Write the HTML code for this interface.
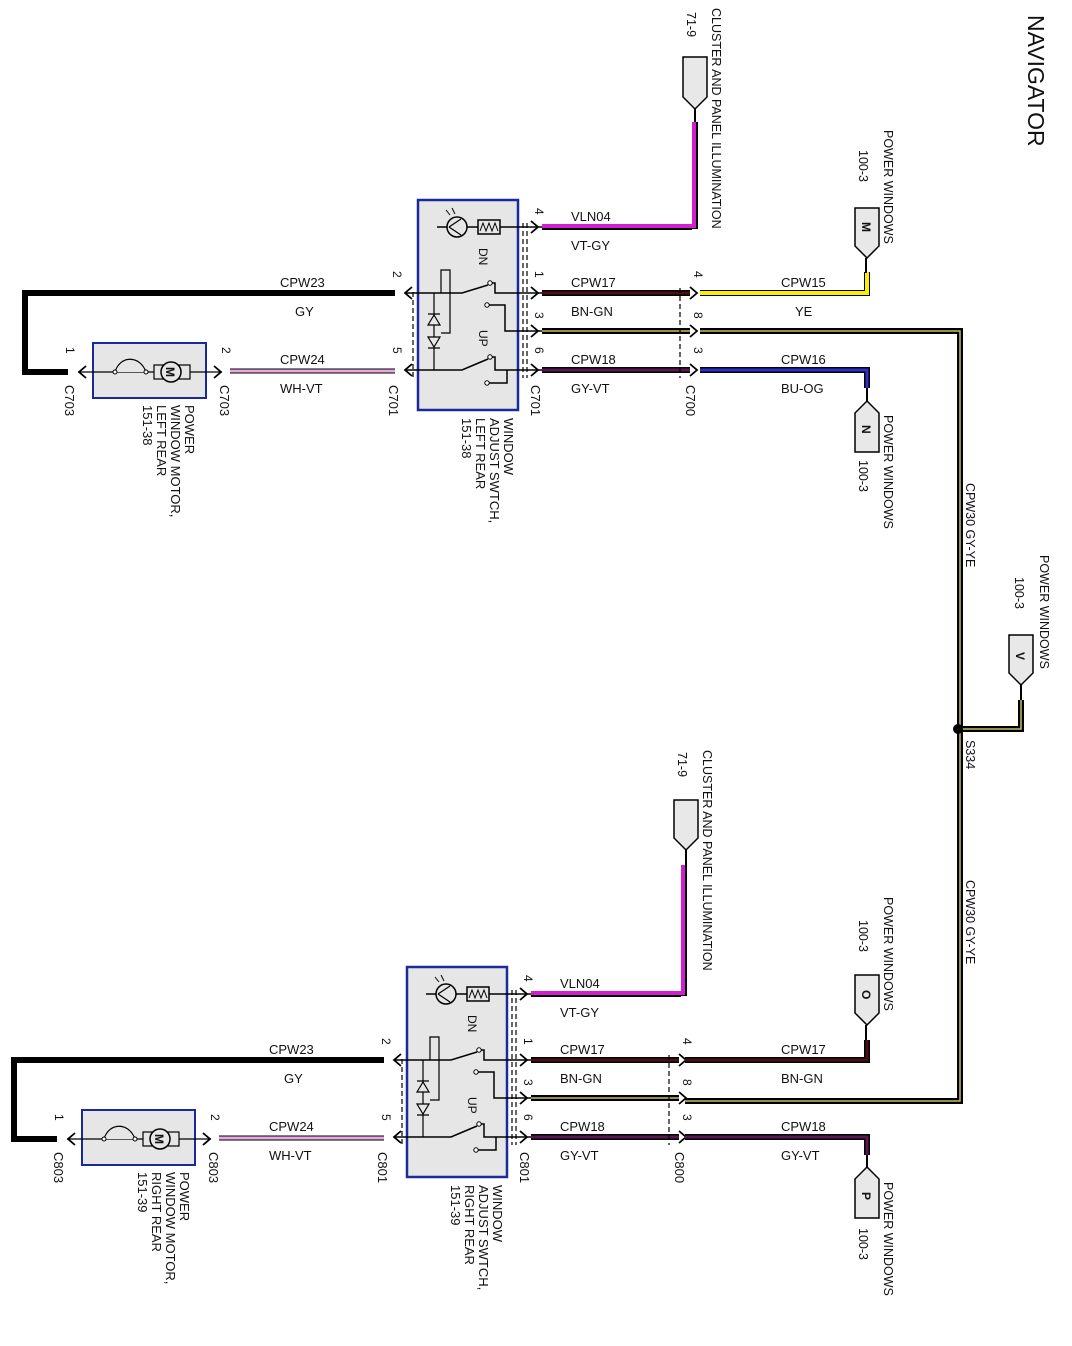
<!DOCTYPE html>
<html><head><meta charset="utf-8"><style>
html,body{margin:0;padding:0;background:#fff;}
svg{display:block;font-family:"Liberation Sans",Arial,sans-serif;font-size:13px;}
text{fill:#111;}
.b{stroke:#000;fill:none;}
</style></head><body>
<svg width="1072" height="1346" viewBox="0 0 1072 1346" xmlns="http://www.w3.org/2000/svg">
<defs>
<g id="sw">
  <rect x="418" y="200" width="100" height="210" fill="#e6e6e6" stroke="#1a2a9a" stroke-width="2.5"/>
  <line x1="437" y1="227" x2="542" y2="227" class="b" stroke-width="1.5"/>
  <circle cx="457" cy="227" r="10" fill="#e6e6e6" stroke="#000" stroke-width="1.5"/>
  <path d="M449 227 L461 219 M449 227 L461 235" class="b" stroke-width="1.2"/>
  <path d="M450 215 l-4 -5 M455 214 l-3 -6" class="b" stroke-width="1"/>
  <rect x="478" y="220" width="22" height="14" fill="#e6e6e6" stroke="#000" stroke-width="1.5"/>
  <path d="M480 231 l3 -8 l3 8 l3 -8 l3 8 l3 -8 l3 8" class="b" stroke-width="1"/>
  <text transform="translate(479,248) rotate(90)" font-size="12">DN</text>
  <text transform="translate(479,330) rotate(90)" font-size="12">UP</text>
  <path d="M405 293 L462 293 L488 285" class="b" stroke-width="1.5"/>
  <circle cx="490" cy="283" r="2.2" fill="#fff" stroke="#000"/>
  <path d="M492 283 L495 283 L495 293 L542 293" class="b" stroke-width="1.5"/>
  <circle cx="487" cy="305" r="2.2" fill="#fff" stroke="#000"/>
  <path d="M489 305 L505 305 L505 331 L542 331" class="b" stroke-width="1.5"/>
  <path d="M441 293 L441 270 L450 270 L450 333 L441 333" class="b" stroke-width="1.2"/>
  <path d="M434 293 L434 370" class="b" stroke-width="1.2"/>
  <path d="M428 325 L440 325 L434 315 Z M428 337 L440 337 L434 347 Z M428 314 L440 314 M428 348 L440 348" fill="#e6e6e6" stroke="#000" stroke-width="1.2"/>
  <path d="M405 370 L462 370 L488 359" class="b" stroke-width="1.5"/>
  <circle cx="490" cy="357" r="2.2" fill="#fff" stroke="#000"/>
  <path d="M492 357 L495 357 L495 370 L542 370" class="b" stroke-width="1.5"/>
  <circle cx="487" cy="383" r="2.2" fill="#fff" stroke="#000"/>
  <path d="M489 383 L507 383 L507 370" class="b" stroke-width="1.5"/>
  <path d="M413 292 L413 378 M523 223 L523 378 M527 223 L527 378" class="b" stroke-dasharray="5,3" stroke-width="1.2"/>
  <path d="M412 287 L405 293 L412 299 M412 364 L405 370 L412 376" class="b" stroke-width="1.8"/>
  <path d="M531 221 L538 227 L531 233 M531 287 L538 293 L531 299 M531 325 L538 331 L531 337 M531 364 L538 370 L531 376" class="b" stroke-width="1.8"/>
  <rect x="93" y="343" width="113" height="55" fill="#e6e6e6" stroke="#1a2a9a" stroke-width="2"/>
  <line x1="78" y1="372" x2="222" y2="372" class="b" stroke-width="1.2"/>
  <path d="M115 372 C120 355,140 355,146 372" fill="#e6e6e6" stroke="#000" stroke-width="1.2"/>
  <circle cx="115" cy="372" r="2" fill="#fff" stroke="#000"/><circle cx="146" cy="372" r="2" fill="#fff" stroke="#000"/>
  <rect x="154" y="365" width="36" height="14" fill="#e6e6e6" stroke="#000" stroke-width="1.2"/>
  <circle cx="171" cy="372" r="10" fill="#e6e6e6" stroke="#000" stroke-width="1.5"/>
  <text transform="translate(166,367) rotate(90)" font-size="12" font-weight="bold">M</text>
  <path d="M86 366 L79 372 L86 378 M214 366 L221 372 L214 378" class="b" stroke-width="1.8"/>
  <path d="M395 293 L25 293 L25 372 L68 372" class="b" stroke-width="6"/>
  <line x1="230" y1="371" x2="395" y2="371" stroke="#000" stroke-width="5"/>
  <line x1="230" y1="371" x2="395" y2="371" stroke="#e8a8e0" stroke-width="3"/>
  <line x1="542" y1="227" x2="692" y2="227" stroke="#000" stroke-width="6"/>
  <line x1="542" y1="226" x2="692" y2="226" stroke="#d020d0" stroke-width="4"/>
  <line x1="542" y1="293" x2="690" y2="293" stroke="#000" stroke-width="6"/>
  <line x1="542" y1="293" x2="690" y2="293" stroke="#4a1010" stroke-width="3"/>
  <line x1="542" y1="331" x2="690" y2="331" stroke="#000" stroke-width="6"/>
  <line x1="542" y1="331" x2="690" y2="331" stroke="#c8c060" stroke-width="1.5"/>
  <line x1="542" y1="370" x2="690" y2="370" stroke="#000" stroke-width="6"/>
  <line x1="542" y1="370" x2="690" y2="370" stroke="#5a1850" stroke-width="3"/>
  <path d="M680 288 L680 378" class="b" stroke-dasharray="5,3" stroke-width="1.2"/>
  <path d="M690 287 L697 293 L690 299 M690 325 L697 331 L690 337 M690 364 L697 370 L690 376" class="b" stroke-width="1.8"/>
  <text x="280" y="287">CPW23</text><text x="295" y="316">GY</text>
  <text x="280" y="364">CPW24</text><text x="280" y="393">WH-VT</text>
  <text x="571" y="221">VLN04</text><text x="571" y="250">VT-GY</text>
  <text x="571" y="287">CPW17</text><text x="571" y="316">BN-GN</text>
  <text x="571" y="364">CPW18</text><text x="571" y="393">GY-VT</text>
  <text transform="translate(535,208) rotate(90)" font-size="12">4</text>
  <text transform="translate(535,271) rotate(90)" font-size="12">1</text>
  <text transform="translate(535,312) rotate(90)" font-size="12">3</text>
  <text transform="translate(535,347) rotate(90)" font-size="12">6</text>
  <text transform="translate(393,271) rotate(90)" font-size="12">2</text>
  <text transform="translate(393,347) rotate(90)" font-size="12">5</text>
  <text transform="translate(222,347) rotate(90)" font-size="12">2</text>
  <text transform="translate(66,347) rotate(90)" font-size="12">1</text>
  <text transform="translate(694,271) rotate(90)" font-size="12">4</text>
  <text transform="translate(694,312) rotate(90)" font-size="12">8</text>
  <text transform="translate(694,347) rotate(90)" font-size="12">3</text>
</g>
</defs>

<text transform="translate(1028,15) rotate(90)" font-size="23">NAVIGATOR</text>

<use href="#sw"/>
<text transform="translate(65,385) rotate(90)">C703</text>
<text transform="translate(220,385) rotate(90)">C703</text>
<text transform="translate(389,385) rotate(90)">C701</text>
<text transform="translate(531,385) rotate(90)">C701</text>
<text transform="translate(686,385) rotate(90)">C700</text>
<text transform="translate(185,405) rotate(90)">POWER</text>
<text transform="translate(171,405) rotate(90)">WINDOW MOTOR,</text>
<text transform="translate(157,405) rotate(90)">LEFT REAR</text>
<text transform="translate(143,405) rotate(90)">151-38</text>
<text transform="translate(504,418) rotate(90)">WINDOW</text>
<text transform="translate(490,418) rotate(90)">ADJUST SWTCH,</text>
<text transform="translate(476,418) rotate(90)">LEFT REAR</text>
<text transform="translate(462,418) rotate(90)">151-38</text>
<line x1="695" y1="122" x2="695" y2="229" stroke="#000" stroke-width="6"/>
<line x1="694" y1="122" x2="694" y2="228" stroke="#d020d0" stroke-width="4"/>
<line x1="695" y1="108" x2="695" y2="122" class="b" stroke-width="2"/>
<path d="M683 57 L707 57 L707 97 L695 109 L683 97 Z" fill="#e8e8e8" stroke="#000" stroke-width="1.5"/>
<text transform="translate(712,8) rotate(90)" font-size="12.5">CLUSTER AND PANEL ILLUMINATION</text>
<text transform="translate(687,12) rotate(90)" font-size="12.5">71-9</text>
<path d="M700 293 L867 293 L867 272" fill="none" stroke="#000" stroke-width="6"/>
<path d="M700 293 L867 293 L867 272" fill="none" stroke="#f8f000" stroke-width="4"/>
<line x1="866" y1="258" x2="866" y2="273" class="b" stroke-width="2"/>
<path d="M855 208 L879 208 L879 246 L867 258 L855 246 Z" fill="#e8e8e8" stroke="#000" stroke-width="1.5"/>
<text transform="translate(862,222) rotate(90)" font-size="12" font-weight="bold">M</text>
<text x="781" y="287">CPW15</text><text x="795" y="316">YE</text>
<text transform="translate(884,130) rotate(90)" font-size="12.5">POWER WINDOWS</text>
<text transform="translate(859,150) rotate(90)" font-size="12.5">100-3</text>
<path d="M700 370 L867 370 L867 388" fill="none" stroke="#000" stroke-width="6"/>
<path d="M700 370 L867 370 L867 388" fill="none" stroke="#2a30c8" stroke-width="3"/>
<line x1="867" y1="388" x2="867" y2="402" class="b" stroke-width="2"/>
<path d="M867 401 L879 413 L879 452 L855 452 L855 413 Z" fill="#e8e8e8" stroke="#000" stroke-width="1.5"/>
<text transform="translate(862,425) rotate(90)" font-size="12" font-weight="bold">N</text>
<text x="781" y="364">CPW16</text><text x="781" y="393">BU-OG</text>
<text transform="translate(884,415) rotate(90)" font-size="12.5">POWER WINDOWS</text>
<text transform="translate(859,460) rotate(90)" font-size="12.5">100-3</text>

<path d="M700 331 L960 331 L960 1101 L685 1101" fill="none" stroke="#000" stroke-width="6"/>
<path d="M700 331 L960 331 L960 1101 L685 1101" fill="none" stroke="#c8c060" stroke-width="1.5"/>
<path d="M960 729 L1021 729 L1021 700" fill="none" stroke="#000" stroke-width="6"/>
<path d="M960 729 L1021 729 L1021 700" fill="none" stroke="#c8c060" stroke-width="1.5"/>
<line x1="1021" y1="685" x2="1021" y2="700" class="b" stroke-width="2"/>
<path d="M1009 635 L1033 635 L1033 673 L1021 685 L1009 673 Z" fill="#e8e8e8" stroke="#000" stroke-width="1.5"/>
<text transform="translate(1016,652) rotate(90)" font-size="12" font-weight="bold">V</text>
<circle cx="958" cy="729" r="5" fill="#000"/>
<text transform="translate(1040,555) rotate(90)" font-size="12.5">POWER WINDOWS</text>
<text transform="translate(1015,577) rotate(90)" font-size="12.5">100-3</text>
<text transform="translate(966,740) rotate(90)" font-size="12.5">S334</text>
<text transform="translate(966,483) rotate(90)" font-size="12.5">CPW30   GY-YE</text>
<text transform="translate(966,880) rotate(90)" font-size="12.5">CPW30   GY-YE</text>

<g transform="translate(-11,767)">
<use href="#sw"/>
<text transform="translate(65,385) rotate(90)">C803</text>
<text transform="translate(220,385) rotate(90)">C803</text>
<text transform="translate(389,385) rotate(90)">C801</text>
<text transform="translate(531,385) rotate(90)">C801</text>
<text transform="translate(686,385) rotate(90)">C800</text>
</g>
<text transform="translate(180,1172) rotate(90)">POWER</text>
<text transform="translate(166,1172) rotate(90)">WINDOW MOTOR,</text>
<text transform="translate(152,1172) rotate(90)">RIGHT REAR</text>
<text transform="translate(138,1172) rotate(90)">151-39</text>
<text transform="translate(493,1185) rotate(90)">WINDOW</text>
<text transform="translate(479,1185) rotate(90)">ADJUST SWTCH,</text>
<text transform="translate(465,1185) rotate(90)">RIGHT REAR</text>
<text transform="translate(451,1185) rotate(90)">151-39</text>
<line x1="684" y1="865" x2="684" y2="996" stroke="#000" stroke-width="6"/>
<line x1="683" y1="865" x2="683" y2="995" stroke="#d020d0" stroke-width="4"/>
<line x1="686" y1="850" x2="686" y2="865" class="b" stroke-width="2"/>
<path d="M674 800 L698 800 L698 838 L686 850 L674 838 Z" fill="#e8e8e8" stroke="#000" stroke-width="1.5"/>
<text transform="translate(703,750) rotate(90)" font-size="12.5">CLUSTER AND PANEL ILLUMINATION</text>
<text transform="translate(678,752) rotate(90)" font-size="12.5">71-9</text>
<path d="M685 1060 L867 1060 L867 1040" fill="none" stroke="#000" stroke-width="6"/>
<path d="M685 1060 L867 1060 L867 1040" fill="none" stroke="#4a1010" stroke-width="3"/>
<line x1="866" y1="1025" x2="866" y2="1040" class="b" stroke-width="2"/>
<path d="M855 975 L879 975 L879 1013 L867 1025 L855 1013 Z" fill="#e8e8e8" stroke="#000" stroke-width="1.5"/>
<text transform="translate(862,990) rotate(90)" font-size="12" font-weight="bold">O</text>
<text x="781" y="1054">CPW17</text><text x="781" y="1083">BN-GN</text>
<text transform="translate(884,897) rotate(90)" font-size="12.5">POWER WINDOWS</text>
<text transform="translate(859,920) rotate(90)" font-size="12.5">100-3</text>
<path d="M685 1137 L867 1137 L867 1155" fill="none" stroke="#000" stroke-width="6"/>
<path d="M685 1137 L867 1137 L867 1155" fill="none" stroke="#5a1850" stroke-width="3"/>
<line x1="867" y1="1155" x2="867" y2="1168" class="b" stroke-width="2"/>
<path d="M867 1167 L879 1179 L879 1218 L855 1218 L855 1179 Z" fill="#e8e8e8" stroke="#000" stroke-width="1.5"/>
<text transform="translate(862,1192) rotate(90)" font-size="12" font-weight="bold">P</text>
<text x="781" y="1131">CPW18</text><text x="781" y="1160">GY-VT</text>
<text transform="translate(884,1182) rotate(90)" font-size="12.5">POWER WINDOWS</text>
<text transform="translate(859,1228) rotate(90)" font-size="12.5">100-3</text>
</svg>
</body></html>
